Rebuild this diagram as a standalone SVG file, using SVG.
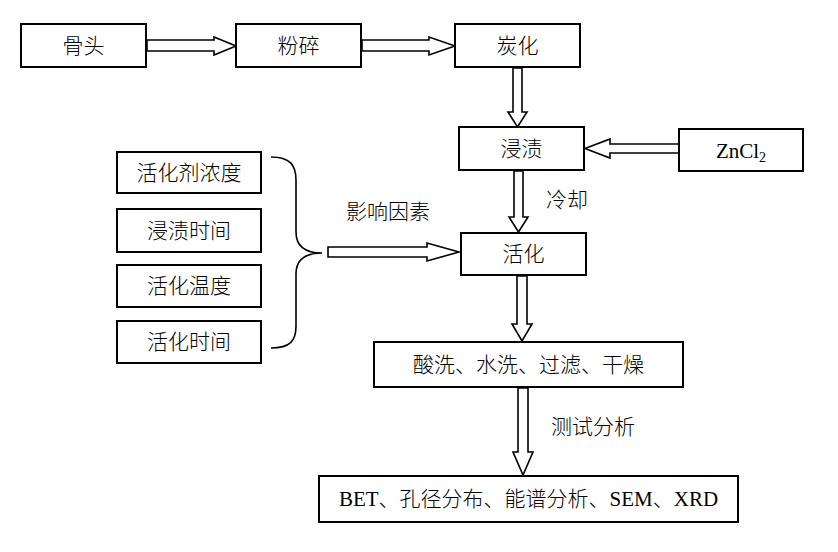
<svg xmlns="http://www.w3.org/2000/svg" width="838" height="552" viewBox="0 0 838 552">
<style>
.box{fill:#fff;stroke:#000;stroke-width:2}
.arr{fill:#fff;stroke:#000;stroke-width:1.6;stroke-linejoin:miter}
.t{font-family:"Liberation Serif","Noto Sans CJK SC",serif;font-size:21px;font-weight:300;fill:#000;text-anchor:middle}
.brace{fill:none;stroke:#000;stroke-width:1.6}
</style>
<rect width="838" height="552" fill="#fff"/>
<g id="connectors">
<polygon class="arr" points="147,40 214,40 214,37 236,46 214,55 214,51 147,51"/>
<polygon class="arr" points="362,40 429,40 429,37 455,46 429,55 429,51 362,51"/>
<polygon class="arr" points="513,68 522,68 522,112 527,112 517.5,127 508,112 513,112"/>
<polygon class="arr" points="679,144 610,144 610,139 585,148.5 610,158 610,153 679,153"/>
<polygon class="arr" points="514,171 523,171 523,217 528,217 518.5,232 509,217 514,217"/>
<polygon class="arr" points="517,276 527,276 527,324 532,324 522,341 512,324 517,324"/>
<polygon class="arr" points="518,388 528,388 528,452 533,452 523,475 513,452 518,452"/>
<polygon class="arr" points="328,247 427,247 427,243 459,252 427,261 427,257 328,257"/>
<path class="brace" d="M271,157 C290,157 296,165 296,180 L296,232 C296,246 305,253 322,253 C305,253 296,260 296,274 L296,326 C296,341 290,348 271,348"/>
<text class="t" x="388" y="219">影响因素</text>
<text class="t" x="567" y="207">冷却</text>
<text class="t" x="593" y="434">测试分析</text>
</g>
<g id="n-gutou"><rect class="box" x="21" y="24" width="125" height="43"/><text class="t" x="83.5" y="53">骨头</text></g>
<g id="n-fensui"><rect class="box" x="236" y="24" width="125" height="43"/><text class="t" x="298.5" y="53">粉碎</text></g>
<g id="n-tanhua"><rect class="box" x="455" y="24" width="125" height="43"/><text class="t" x="517.5" y="53">炭化</text></g>
<g id="n-jinzi"><rect class="box" x="459" y="127" width="125" height="43"/><text class="t" x="521.5" y="156">浸渍</text></g>
<g id="n-zncl2"><rect class="box" x="679" y="129" width="124" height="42"/><text class="t" x="741" y="158">ZnCl<tspan font-size="14" dy="4">2</tspan></text></g>
<g id="n-huohua"><rect class="box" x="461" y="233" width="125" height="42"/><text class="t" x="523.5" y="261">活化</text></g>
<g id="n-f1"><rect class="box" x="117" y="152" width="144" height="41"/><text class="t" x="189" y="180">活化剂浓度</text></g>
<g id="n-f2"><rect class="box" x="117" y="209" width="144" height="43"/><text class="t" x="189" y="238">浸渍时间</text></g>
<g id="n-f3"><rect class="box" x="117" y="265" width="144" height="42"/><text class="t" x="189" y="293">活化温度</text></g>
<g id="n-f4"><rect class="box" x="117" y="321" width="144" height="42"/><text class="t" x="189" y="349">活化时间</text></g>
<g id="n-wash"><rect class="box" x="374" y="342" width="309" height="45"/><text class="t" x="528.5" y="372">酸洗、水洗、过滤、干燥</text></g>
<g id="n-test"><rect class="box" x="319" y="476" width="419" height="46"/><text class="t" x="528.5" y="506">BET、孔径分布、能谱分析、SEM、XRD</text></g>
</svg>
